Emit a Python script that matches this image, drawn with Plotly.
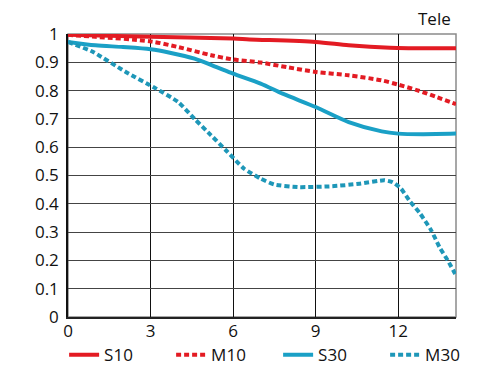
import plotly.graph_objects as go

# Data (Tele MTF chart)
x_s10 = [0, 3, 6, 6.6, 9, 10.2, 11.7, 12.5, 14.1]
s10 = [0.997, 0.99, 0.984, 0.981, 0.972, 0.96, 0.951, 0.95, 0.95]

x_m10 = [0, 1, 3, 4, 5.2, 6, 7, 8, 9, 10.2, 11.4, 12, 12.7, 13.4, 14.1]
m10 = [0.997, 0.99, 0.974, 0.954, 0.925, 0.91, 0.899, 0.882, 0.866, 0.854, 0.836, 0.821, 0.801, 0.777, 0.752]

x_s30 = [0, 1, 2, 3, 3.7, 4.6, 5.4, 6, 7, 7.8, 9, 10.2, 11.4, 12, 12.9, 14.1]
s30 = [0.972, 0.96, 0.954, 0.946, 0.934, 0.913, 0.883, 0.86, 0.825, 0.789, 0.742, 0.689, 0.656, 0.648, 0.646, 0.648]

x_m30 = [0, 0.9, 2.1, 3.2, 4, 4.6, 5.2, 5.8, 6.4, 7, 7.5, 8.4, 9.6, 10.6, 11.5, 11.8, 12.1, 12.4, 12.8, 13.2, 13.5, 13.8, 14.1]
m30 = [0.972, 0.937, 0.866, 0.807, 0.76, 0.70, 0.642, 0.583, 0.524, 0.489, 0.468, 0.459, 0.462, 0.471, 0.483, 0.476, 0.454, 0.412, 0.365, 0.306, 0.247, 0.2, 0.147]

x_ticks = [0, 3, 6, 9, 12]
y_ticks = [0, 0.1, 0.2, 0.3, 0.4, 0.5, 0.6, 0.7, 0.8, 0.9, 1]
y_labels = ["0", "0.1", "0.2", "0.3", "0.4", "0.5", "0.6", "0.7", "0.8", "0.9", "1"]

RED = "#e31b23"
BLUE = "#1aa0c6"
BLUE_D = "#1e97b8"
FONT = "Open Sans"

fig = go.Figure()
fig.add_trace(go.Scatter(x=x_s10, y=s10, name="S10", mode="lines",
                         line=dict(color=RED, width=4, shape="spline", smoothing=0.8)))
fig.add_trace(go.Scatter(x=x_m10, y=m10, name="M10", mode="lines",
                         line=dict(color=RED, width=4, dash="5px,3px", shape="spline", smoothing=0.8)))
fig.add_trace(go.Scatter(x=x_s30, y=s30, name="S30", mode="lines",
                         line=dict(color=BLUE, width=4, shape="spline", smoothing=0.8)))
fig.add_trace(go.Scatter(x=x_m30, y=m30, name="M30", mode="lines",
                         line=dict(color=BLUE_D, width=4, dash="5px,3px", shape="spline", smoothing=0.5)))

fig.add_shape(type="rect", xref="paper", yref="paper", x0=0, y0=0, x1=1, y1=1,
              line=dict(color="#8a8a8a", width=1.5), layer="below")

fig.add_annotation(text="Tele", xref="paper", yref="paper", x=0.99, y=1.012,
                   xanchor="right", yanchor="bottom", showarrow=False, borderpad=0,
                   font=dict(family=FONT, size=17, color="#111"))

# page body adds an 8px offset, so the figure is sized/margined to compensate
fig.update_layout(
    width=492, height=367,
    margin=dict(l=60, r=44, t=26, b=58, autoexpand=False),
    paper_bgcolor="white", plot_bgcolor="white",
    font=dict(family=FONT, size=17, color="#111"),
    showlegend=True,
    legend=dict(orientation="h", x=-0.01, y=-0.135, xanchor="left", yanchor="middle",
                entrywidth=62, entrywidthmode="pixels", itemwidth=30,
                font=dict(family=FONT, size=17, color="#111"),
                tracegroupgap=0, bgcolor="rgba(0,0,0,0)"),
    xaxis=dict(range=[0, 14.1], tickvals=x_ticks, ticktext=[str(v) for v in x_ticks],
               showgrid=True, gridcolor="#111", gridwidth=1,
               showline=True, linecolor="#222", linewidth=1.5,
               ticks="", zeroline=False, fixedrange=True, ticklabelstandoff=-2),
    yaxis=dict(range=[0, 1], tickvals=y_ticks, ticktext=y_labels,
               showgrid=True, gridcolor="#444", gridwidth=1,
               showline=True, linecolor="#111", linewidth=1.5,
               ticks="", zeroline=False, fixedrange=True, ticklabelstandoff=4),
)

fig.write_html("out.html")
